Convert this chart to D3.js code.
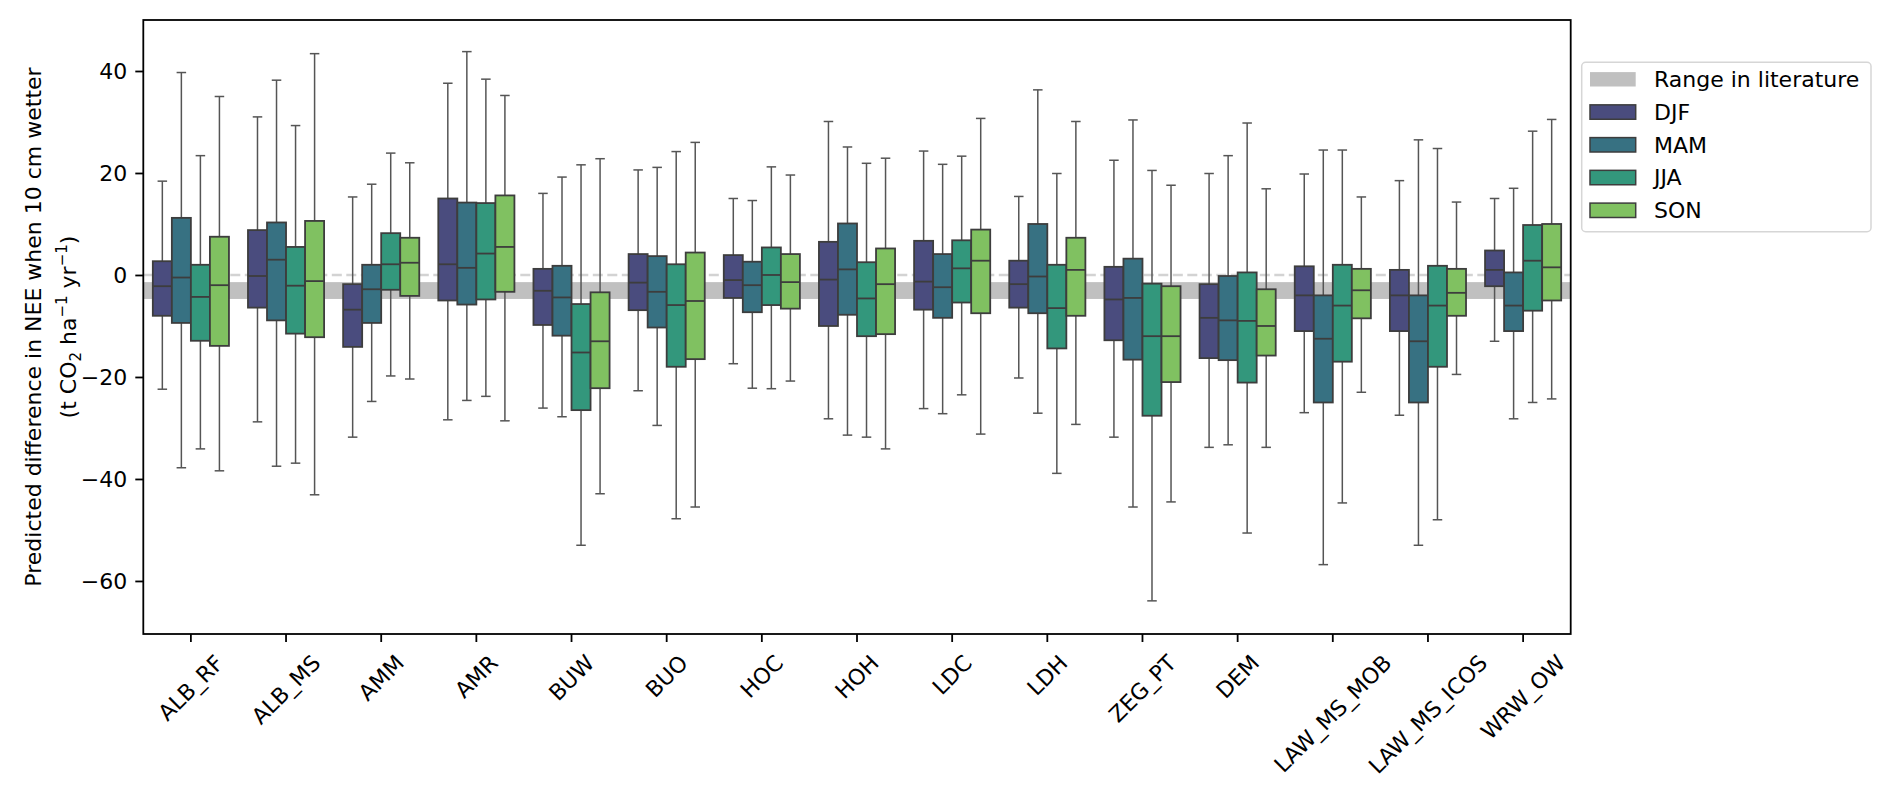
<!DOCTYPE html>
<html>
<head>
<meta charset="utf-8">
<script src="https://cdn.jsdelivr.net/npm/d3@7"></script>
<style>
  html, body { margin: 0; padding: 0; background: #fff; }
  text { font-family: 'DejaVu Sans', sans-serif; }
</style>
</head>
<body>
<div class="canvas"></div>
<script>
// sites along the x axis
const sites = ['ALB_RF', 'ALB_MS', 'AMM', 'AMR', 'BUW', 'BUO', 'HOC', 'HOH', 'LDC', 'LDH',
  'ZEG_PT', 'DEM', 'LAW_MS_MOB', 'LAW_MS_ICOS', 'WRW_OW'];
const seasons = ['DJF', 'MAM', 'JJA', 'SON'];
const yTicks = [-60, -40, -20, 0, 20, 40];
const literatureRange = [-4.7, -1.4];

// [lower whisker, q1, median, q3, upper whisker] per site
const djf = [
  [-22.4, -8.0, -2.2, 2.7, 18.4], [-28.8, -6.4, -0.2, 8.8, 31.0], [-31.8, -14.1, -6.8, -1.8, 15.3],
  [-28.4, -5.0, 2.1, 15.0, 37.6], [-26.1, -9.8, -3.1, 1.2, 16.0], [-22.7, -6.9, -1.5, 4.1, 20.6],
  [-17.4, -4.5, -1.0, 3.9, 15.0], [-28.2, -10.0, -0.9, 6.5, 30.1], [-26.2, -6.8, -1.3, 6.7, 24.3],
  [-20.2, -6.4, -1.8, 2.8, 15.4], [-31.8, -12.8, -4.8, 1.6, 22.5], [-33.8, -16.3, -8.4, -1.8, 19.9],
  [-27.0, -11.0, -4.0, 1.7, 19.8], [-27.5, -11.0, -4.0, 1.0, 18.5], [-13.0, -2.2, 1.0, 4.8, 15.0]
];
const mam = [
  [-37.8, -9.4, -0.5, 11.2, 39.7], [-37.5, -8.9, 3.0, 10.3, 38.2], [-24.8, -9.4, -2.8, 2.0, 17.8],
  [-24.6, -5.8, 1.4, 14.2, 43.8], [-27.8, -11.9, -4.4, 1.8, 19.2], [-29.5, -10.3, -3.3, 3.7, 21.1],
  [-22.2, -7.3, -2.0, 2.6, 14.6], [-31.4, -7.8, 1.1, 10.1, 25.1], [-27.2, -8.4, -2.4, 4.1, 21.7],
  [-27.1, -7.5, -0.3, 10.0, 36.3], [-45.5, -16.6, -4.5, 3.2, 30.4], [-33.3, -16.7, -8.9, -0.2, 23.4],
  [-56.8, -25.0, -12.5, -4.0, 24.5], [-53.0, -25.0, -13.0, -4.0, 26.5], [-28.2, -11.0, -6.0, 0.5, 17.0]
];
const jja = [
  [-34.1, -12.9, -4.3, 2.0, 23.4], [-36.9, -11.5, -2.1, 5.5, 29.3], [-19.8, -2.9, 2.1, 8.2, 23.9],
  [-23.8, -4.8, 4.2, 14.1, 38.4], [-53.0, -26.5, -15.2, -5.7, 21.6], [-47.8, -18.0, -5.9, 2.1, 24.2],
  [-22.3, -5.9, 0.0, 5.4, 21.2], [-31.8, -12.0, -4.6, 2.5, 21.9], [-23.5, -5.4, 1.3, 6.8, 23.3],
  [-38.9, -14.4, -6.5, 2.0, 19.9], [-63.9, -27.6, -12.0, -1.7, 20.5], [-50.6, -21.1, -9.0, 0.5, 29.8],
  [-44.7, -17.0, -6.0, 2.0, 24.5], [-48.0, -18.0, -6.0, 1.8, 24.8], [-25.0, -7.0, 2.8, 9.8, 28.2]
];
const son = [
  [-38.4, -13.9, -2.0, 7.5, 35.0], [-43.1, -12.2, -1.2, 10.6, 43.4], [-20.4, -4.1, 2.4, 7.3, 22.0],
  [-28.6, -3.3, 5.5, 15.6, 35.2], [-42.9, -22.2, -13.0, -3.4, 22.8], [-45.5, -16.5, -5.1, 4.4, 26.0],
  [-20.8, -6.6, -1.4, 4.1, 19.6], [-34.1, -11.6, -1.8, 5.2, 22.9], [-31.2, -7.5, 2.8, 8.9, 30.7],
  [-29.3, -8.0, 1.0, 7.3, 30.1], [-44.5, -21.0, -12.0, -2.2, 17.6], [-33.8, -15.8, -10.0, -2.8, 16.9],
  [-23.0, -8.5, -3.0, 1.2, 15.3], [-19.5, -8.0, -3.5, 1.2, 14.3], [-24.3, -5.0, 1.5, 10.0, 30.5]
];
const seriesValues = [djf, mam, jja, son];

const width = 1892, height = 795;
const frame = { left: 143.3, right: 1570.7, top: 20, bottom: 634 };
const fontSize = 22;

const svg = d3.select('.canvas').append('svg')
  .attr('width', width)
  .attr('height', height);

const x = d3.scaleBand().domain(sites).range([frame.left, frame.right]).padding(0);
const y = d3.scaleLinear().domain([-70.4, 50]).range([frame.bottom, frame.top]);

// seaborn-like desaturated viridis
const color = d3.scaleOrdinal().domain(seasons).range(
  [0.2, 0.4, 0.6, 0.8].map((t) => {
    const c = d3.hsl(d3.interpolateViridis(t));
    c.s *= 0.75;
    return c.formatHex();
  })
);
const edgeColor = '#3d3d3d';

const plot = svg.append('g');

// literature band and zero line
plot.append('rect')
  .attr('x', frame.left)
  .attr('width', frame.right - frame.left)
  .attr('y', y(literatureRange[1]))
  .attr('height', y(literatureRange[0]) - y(literatureRange[1]))
  .attr('fill', '#c0c0c0');

plot.append('line')
  .attr('x1', frame.left).attr('x2', frame.right)
  .attr('y1', y(0)).attr('y2', y(0))
  .attr('stroke', '#d3d3d3')
  .attr('stroke-width', 2.6)
  .attr('stroke-dasharray', '10,4.5');

const boxW = x.bandwidth() * 0.2;

seasons.forEach((season, si) => {
  const vals = seriesValues[si];
  const g = plot.append('g').attr('class', 'season');
  const items = g.selectAll('g').data(sites.map((s, i) => ({ site: s, v: vals[i] }))).join('g')
    .attr('transform', (d) => `translate(${x(d.site) + x.bandwidth() * 0.1 + si * boxW},0)`);

  const cx = boxW / 2;
  // whiskers
  items.append('line')
    .attr('x1', cx).attr('x2', cx)
    .attr('y1', (d) => y(d.v[4])).attr('y2', (d) => y(d.v[3]))
    .attr('stroke', '#555').attr('stroke-width', 1.5);
  items.append('line')
    .attr('x1', cx).attr('x2', cx)
    .attr('y1', (d) => y(d.v[1])).attr('y2', (d) => y(d.v[0]))
    .attr('stroke', '#555').attr('stroke-width', 1.5);
  // caps
  [0, 4].forEach((k) => {
    items.append('line')
      .attr('x1', cx - boxW / 4).attr('x2', cx + boxW / 4)
      .attr('y1', (d) => y(d.v[k])).attr('y2', (d) => y(d.v[k]))
      .attr('stroke', '#555').attr('stroke-width', 1.5);
  });
  // box
  items.append('rect')
    .attr('x', 0).attr('width', boxW)
    .attr('y', (d) => y(d.v[3]))
    .attr('height', (d) => y(d.v[1]) - y(d.v[3]))
    .attr('fill', color(season))
    .attr('stroke', edgeColor).attr('stroke-width', 1.8);
  // median
  items.append('line')
    .attr('x1', 0).attr('x2', boxW)
    .attr('y1', (d) => y(d.v[2])).attr('y2', (d) => y(d.v[2]))
    .attr('stroke', edgeColor).attr('stroke-width', 1.8);
});

// frame
svg.append('rect')
  .attr('x', frame.left).attr('y', frame.top)
  .attr('width', frame.right - frame.left)
  .attr('height', frame.bottom - frame.top)
  .attr('fill', 'none').attr('stroke', '#000').attr('stroke-width', 1.8);

// y axis
const yAxis = svg.append('g')
  .attr('transform', `translate(${frame.left},0)`)
  .call(d3.axisLeft(y).tickValues(yTicks).tickSize(8).tickPadding(8));
yAxis.select('.domain').remove();
yAxis.selectAll('line').attr('stroke', '#000').attr('stroke-width', 1.8);
yAxis.selectAll('text').attr('font-size', fontSize).attr('fill', '#000')
  .attr('font-family', 'DejaVu Sans');

// x axis
const xAxis = svg.append('g')
  .attr('transform', `translate(0,${frame.bottom})`)
  .call(d3.axisBottom(x).tickSize(8).tickFormat(''));
xAxis.select('.domain').remove();
xAxis.selectAll('line').attr('stroke', '#000').attr('stroke-width', 1.8);

const xLabels = svg.append('g');
sites.forEach((s) => {
  const t = xLabels.append('text')
    .attr('font-size', fontSize)
    .attr('text-anchor', 'middle')
    .attr('dy', '0.346em')
    .text(s);
  const w = t.node().getComputedTextLength();
  const h = fontSize * 1.164;
  const boxH = (w + h) * Math.SQRT1_2;
  const cx = x(s) + x.bandwidth() / 2;
  const cy = frame.bottom + 8 + 8 + boxH / 2;
  t.attr('transform', `translate(${cx},${cy}) rotate(-45)`);
});

// y label
const yMid = (frame.top + frame.bottom) / 2;
svg.append('text')
  .attr('transform', `translate(41,${yMid}) rotate(-90)`)
  .attr('text-anchor', 'middle')
  .attr('font-size', fontSize)
  .text('Predicted difference in NEE when 10 cm wetter');

const unit = svg.append('text')
  .attr('transform', `translate(76,${yMid}) rotate(-90)`)
  .attr('text-anchor', 'middle')
  .attr('font-size', fontSize);
unit.append('tspan').text('(t CO');
unit.append('tspan').attr('font-size', 15).attr('dy', 5).text('2');
unit.append('tspan').attr('dy', -5).text(' ha');
unit.append('tspan').attr('font-size', 15).attr('dy', -9).text('\u22121');
unit.append('tspan').attr('dy', 9).text(' yr');
unit.append('tspan').attr('font-size', 15).attr('dy', -9).text('\u22121');
unit.append('tspan').attr('dy', 9).text(')');

// legend
const legend = svg.append('g');
legend.append('rect')
  .attr('x', 1581.7).attr('y', 62.3)
  .attr('width', 289.3).attr('height', 169.4)
  .attr('rx', 4)
  .attr('fill', '#fff').attr('fill-opacity', 0.8)
  .attr('stroke', '#d6d6d6').attr('stroke-width', 1.5);

const legendItems = [{ label: 'Range in literature', fill: '#c0c0c0', stroke: 'none' }]
  .concat(seasons.map((s) => ({ label: s, fill: color(s), stroke: edgeColor })));

legendItems.forEach((d, i) => {
  const cy = 79.3 + i * 32.75;
  legend.append('rect')
    .attr('x', 1590).attr('y', cy - 7.2)
    .attr('width', 45.7).attr('height', 14.4)
    .attr('fill', d.fill)
    .attr('stroke', d.stroke).attr('stroke-width', 1.5);
  legend.append('text')
    .attr('x', 1654).attr('y', cy)
    .attr('dy', '0.36em')
    .attr('font-size', fontSize)
    .text(d.label);
});
</script>
</body>
</html>
